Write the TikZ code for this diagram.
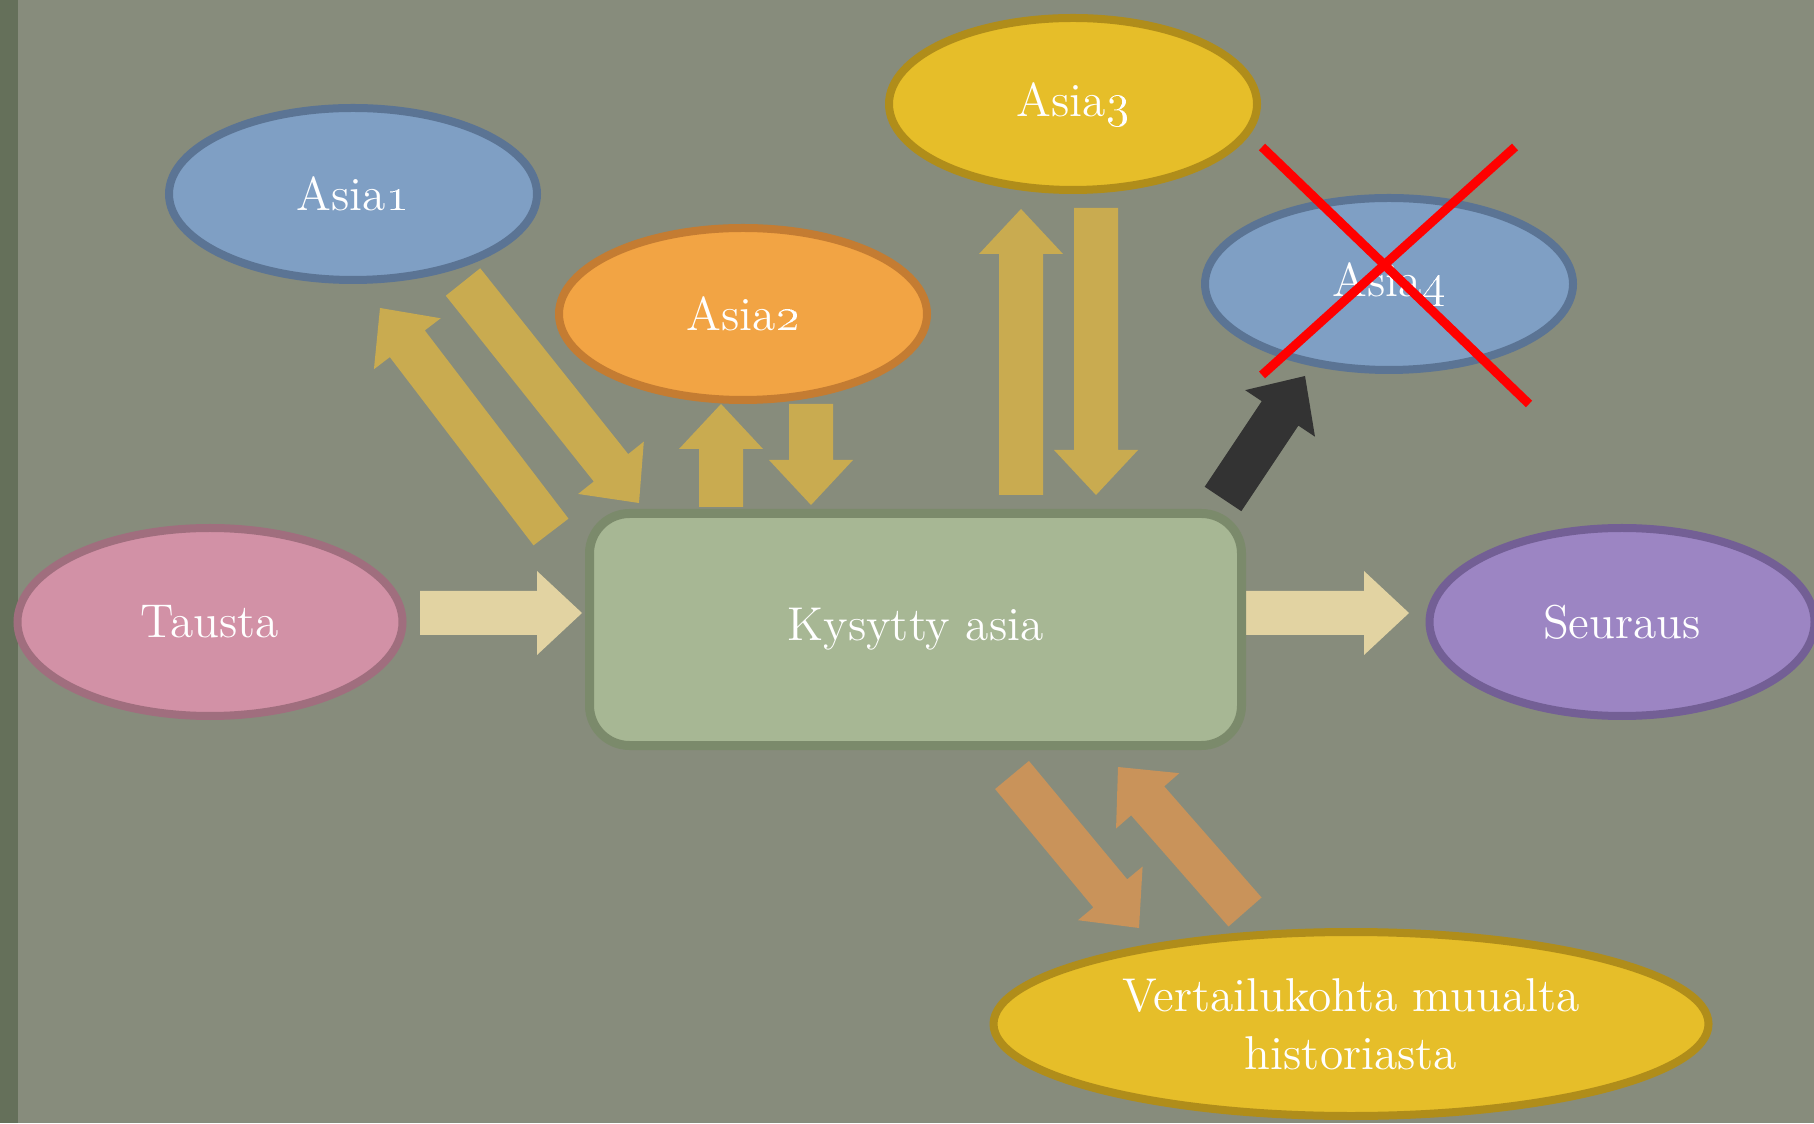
\documentclass[tikz,border=0pt]{standalone}
\usepackage{fix-cm}
\usetikzlibrary{shapes.geometric,calc}

\definecolor{bgcol}{HTML}{878C7C}
\definecolor{edgecol}{HTML}{65705A}
\definecolor{bluefill}{HTML}{7F9FC4}
\definecolor{blueline}{HTML}{5B7494}
\definecolor{orangefill}{HTML}{F2A444}
\definecolor{orangeline}{HTML}{C47C32}
\definecolor{yellowfill}{HTML}{E6BE29}
\definecolor{yellowline}{HTML}{B08D1A}
\definecolor{pinkfill}{HTML}{D291A6}
\definecolor{pinkline}{HTML}{A06E7E}
\definecolor{violetfill}{HTML}{9C85C3}
\definecolor{violetline}{HTML}{735F95}
\definecolor{boxfill}{HTML}{A7B794}
\definecolor{boxline}{HTML}{7B8A6B}
\definecolor{goldarr}{HTML}{C9AB50}
\definecolor{beigearr}{HTML}{E2D3A2}
\definecolor{darkarr}{HTML}{333333}
\definecolor{tanarr}{HTML}{C9935A}

\def\shaftw{0.22cm}
\def\headw{0.42cm}
\def\headl{0.45cm}
% block arrow in colour #1 from #2 to #3
\newcommand\blockarrow[3]{%
	\coordinate (neck) at ($(#3)!\headl!(#2)$);
	\fill[#1] ($(#2)!\shaftw!90:(#3)$) -- ($(neck)!\shaftw!90:(#3)$) -- ($(neck)!\headw!90:(#3)$) -- (#3)
		-- ($(neck)!\headw!-90:(#3)$) -- ($(neck)!\shaftw!-90:(#3)$) -- ($(#2)!\shaftw!-90:(#3)$) -- cycle;
}

\begin{document}
\begin{tikzpicture}[
	bubble/.style={ellipse, draw, line width=0.08cm, text=white, align=center,
		font=\fontsize{13.5}{16.5}\selectfont, minimum width=3.68cm, minimum height=1.72cm},
	kbox/.style={rectangle, rounded corners=0.4cm, draw=boxline, fill=boxfill, line width=0.09cm,
		text=white, font=\fontsize{13.5}{16.5}\selectfont, minimum width=6.52cm, minimum height=2.32cm}]
	% background
	\fill[bgcol] (0,0) rectangle (18.14,11.23);
	\fill[edgecol] (0,0) rectangle (0.18,11.23);
	\useasboundingbox (0,0) rectangle (18.14,11.23);
	% arrow ends
	\coordinate (ta-s) at (4.20,5.10);
	\coordinate (ta-e) at (5.82,5.10);
	\coordinate (se-s) at (12.46,5.10);
	\coordinate (se-e) at (14.09,5.10);
	\coordinate (a1u-s) at (5.51,5.91);
	\coordinate (a1u-e) at (3.80,8.15);
	\coordinate (a1d-s) at (4.63,8.41);
	\coordinate (a1d-e) at (6.39,6.20);
	\coordinate (a2u-s) at (7.21,6.16);
	\coordinate (a2u-e) at (7.21,7.19);
	\coordinate (a2d-s) at (8.11,7.19);
	\coordinate (a2d-e) at (8.11,6.18);
	\coordinate (a3u-s) at (10.21,6.28);
	\coordinate (a3u-e) at (10.21,9.14);
	\coordinate (a3d-s) at (10.96,9.15);
	\coordinate (a3d-e) at (10.96,6.28);
	\coordinate (a4-s) at (12.23,6.24);
	\coordinate (a4-e) at (13.05,7.47);
	\coordinate (vd-s) at (10.12,3.48);
	\coordinate (vd-e) at (11.39,1.95);
	\coordinate (vu-s) at (12.45,2.11);
	\coordinate (vu-e) at (11.18,3.56);
	% the arrows
	\blockarrow{beigearr}{ta-s}{ta-e}
	\blockarrow{beigearr}{se-s}{se-e}
	\blockarrow{goldarr}{a1u-s}{a1u-e}
	\blockarrow{goldarr}{a1d-s}{a1d-e}
	\blockarrow{goldarr}{a2u-s}{a2u-e}
	\blockarrow{goldarr}{a2d-s}{a2d-e}
	\blockarrow{goldarr}{a3u-s}{a3u-e}
	\blockarrow{goldarr}{a3d-s}{a3d-e}
	\blockarrow{darkarr}{a4-s}{a4-e}
	\blockarrow{tanarr}{vd-s}{vd-e}
	\blockarrow{tanarr}{vu-s}{vu-e}
	% the bubbles
	\node[bubble, fill=bluefill, draw=blueline] (asia1) at (3.53,9.29) {Asia\oldstylenums{1}};
	\node[bubble, fill=orangefill, draw=orangeline] (asia2) at (7.43,8.09) {Asia\oldstylenums{2}};
	\node[bubble, fill=yellowfill, draw=yellowline] (asia3) at (10.73,10.19) {Asia\oldstylenums{3}};
	\node[bubble, fill=bluefill, draw=blueline] (asia4) at (13.89,8.39) {Asia\oldstylenums{4}};
	\node[bubble, fill=pinkfill, draw=pinkline, minimum width=3.85cm, minimum height=1.88cm] (tausta) at (2.10,5.01) {Tausta};
	\node[bubble, fill=violetfill, draw=violetline, minimum width=3.85cm, minimum height=1.88cm] (seuraus) at (16.22,5.01) {Seuraus};
	\node[bubble, fill=yellowfill, draw=yellowline, minimum width=7.15cm, minimum height=1.84cm] (vertailu) at (13.51,0.99) {Vertailukohta muualta\\historiasta};
	\node[kbox] (kysytty) at (9.155,4.935) {Kysytty asia};
	% crossed out
	\draw[red, line width=0.09cm] (12.62,9.76) -- (15.29,7.19);
	\draw[red, line width=0.09cm] (15.15,9.76) -- (12.62,7.48);
\end{tikzpicture}
\end{document}
